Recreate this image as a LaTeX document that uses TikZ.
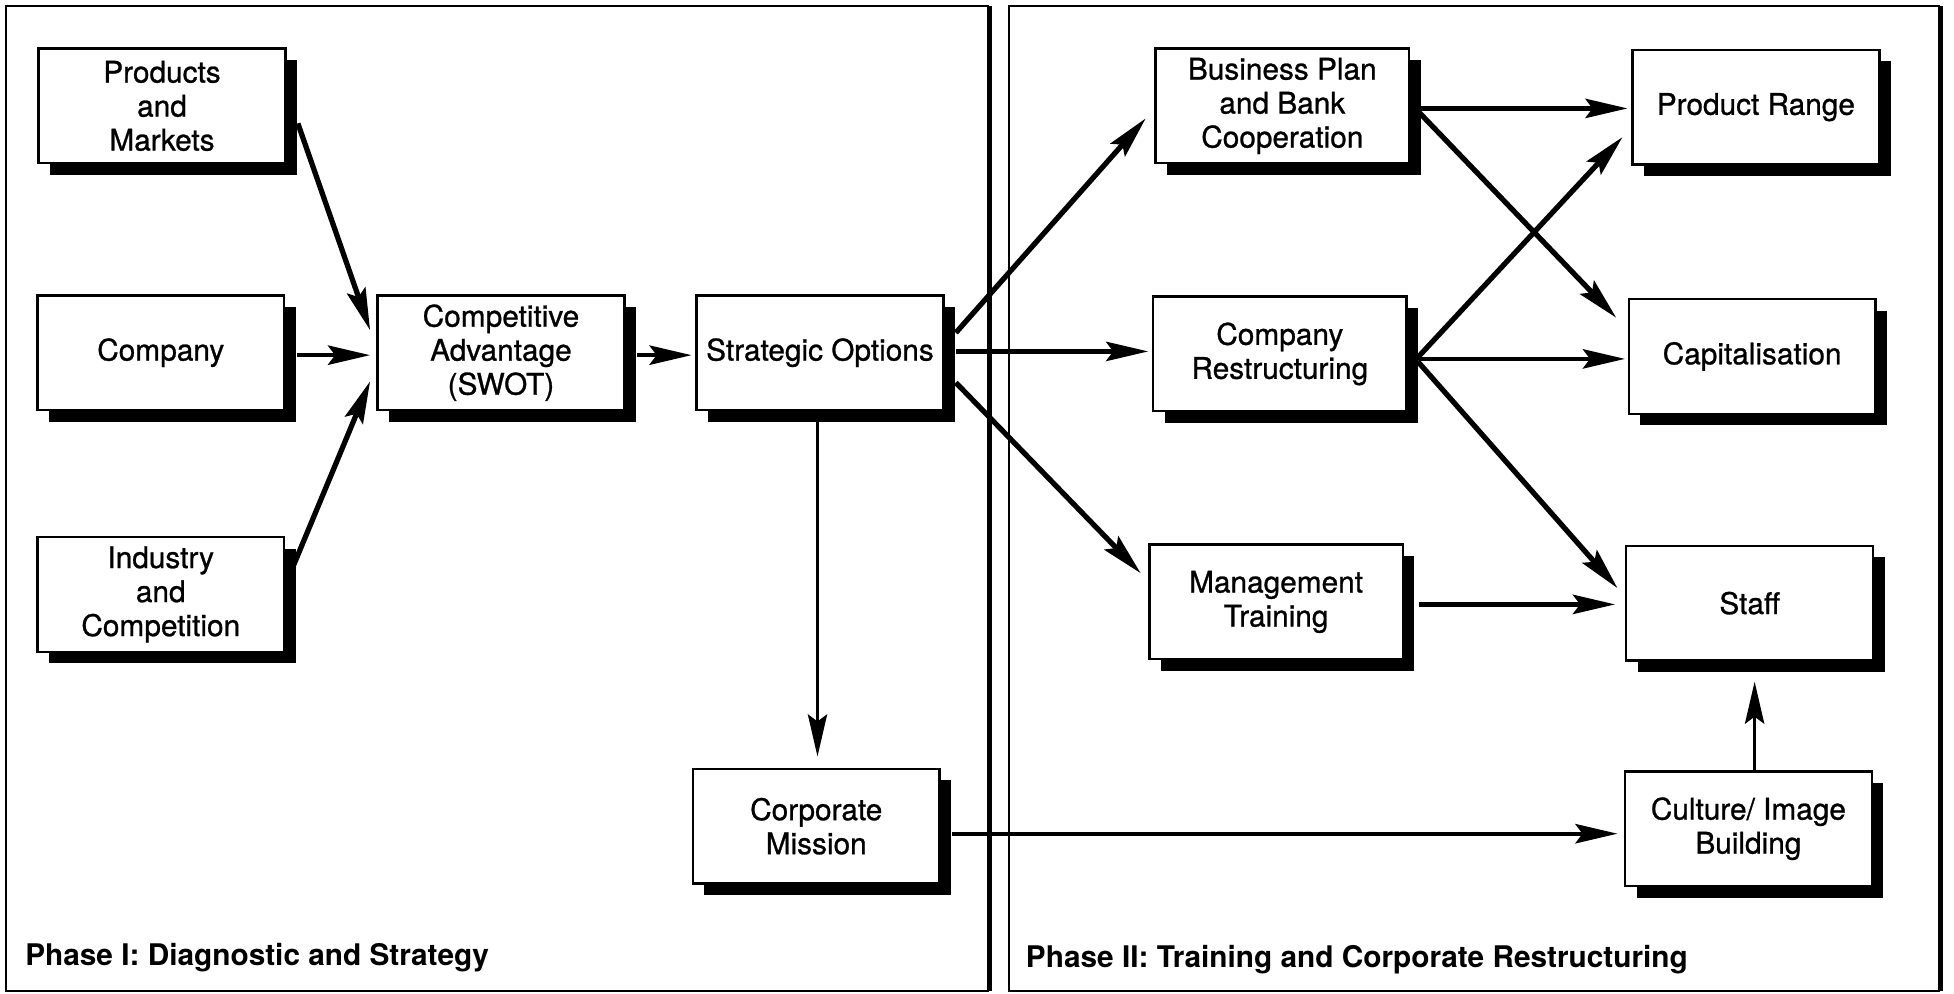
\documentclass[tikz,border=0pt]{standalone}
\usepackage{fontspec}
\setmainfont{TeX Gyre Heros}
\newfontfamily\boxfont[FakeBold=0.9]{TeX Gyre Heros}
\usetikzlibrary{arrows.meta,shadows}

\begin{document}
\begin{tikzpicture}[x=0.025cm, y=-0.025cm,
  box/.style={draw, line width=1.4pt, fill=white, align=center,
    minimum width=4.95cm, minimum height=2.3cm, inner sep=2pt,
    font=\boxfont\fontsize{17}{19.4}\selectfont,
    drop shadow={shadow xshift=6.6pt, shadow yshift=-6.6pt, fill=black, opacity=1}},
  widebox/.style={box, minimum width=5.08cm},
  tip/.style={-{Stealth[length=24pt,width=11pt,inset=4pt]}},
  conn/.style={tip, line width=2.5pt},
  diag/.style={tip, line width=3pt},
  slim/.style={tip, line width=1.4pt},
  frame/.style={line width=1.2pt},
  heavyframe/.style={line width=3.2pt},
  caption/.style={anchor=base west, inner sep=0pt, font=\bfseries\fontsize{17}{20}\selectfont}
]
\useasboundingbox (0,0) rectangle (1568,797);

% Panel frames
\draw[frame] (794,5) -- (5,5) -- (5,795) -- (794,795);
\draw[heavyframe] (794,5) -- (794,795);
\draw[frame] (1557,5) -- (810,5) -- (810,795) -- (1557,795);
\draw[heavyframe] (1557,5) -- (1557,795);

% Phase I boxes
\node[box] (prod)    at (130,85)  {Products\\and\\Markets};
\node[box] (comp)    at (129,283) {Company};
\node[box] (ind)     at (129,477) {Industry\\and\\Competition};
\node[box] (swot)    at (402,283) {Competitive\\Advantage\\(SWOT)};
\node[box] (strat)   at (658,283) {Strategic Options};
\node[box] (mission) at (655,663) {Corporate\\Mission};

% Phase II boxes
\node[widebox] (bank)  at (1029,85)  {Business Plan\\and Bank\\Cooperation};
\node[widebox] (restr) at (1027,284) {Company\\Restructuring};
\node[widebox] (mgmt)  at (1024,483) {Management\\Training};
\node[box] (range)   at (1409,86)  {Product Range};
\node[box] (capital) at (1406,286) {Capitalisation};
\node[box] (staff)   at (1404,484) {Staff};
\node[box] (culture) at (1403,665) {Culture/ Image\\Building};

% Captions
\node[caption] (cap1) at (20,775)  {Phase I: Diagnostic and Strategy};
\node[caption] (cap2) at (823,776) {Phase II: Training and Corporate Restructuring};

% Phase I connectors
\draw[diag] ([shift={(9,14)}]prod.east)  -- ([shift={(-5,-18)}]swot.west);
\draw[conn] ([shift={(9,2)}]comp.east)   -- ([shift={(-5,2)}]swot.west);
\draw[diag] ([shift={(6,-22)}]ind.east)  -- ([shift={(-5,23)}]swot.west);
\draw[conn] ([shift={(9,2)}]swot.east)   -- ([shift={(-3,2)}]strat.west);
\draw[slim] ([shift={(-2,9)}]strat.south) -- ([shift={(1,-9)}]mission.north);

% Strategic options into Phase II
\draw[diag] ([shift={(9,-16)}]strat.east) -- ([shift={(-7,10)}]bank.west);
\draw[conn] ([shift={(9,-1)}]strat.east)  -- ([shift={(-3,-2)}]restr.west);
\draw[diag] ([shift={(9,24)}]strat.east)  -- ([shift={(-6,-23)}]mgmt.west);
\draw[conn] ([shift={(9,6)}]mission.east) -- ([shift={(-5,4)}]culture.west);

% Phase II connectors
\draw[conn] ([shift={(9,2)}]bank.east)   -- ([shift={(-3,1)}]range.west);
\draw[diag] ([shift={(7,5)}]bank.east)   -- ([shift={(-9,-31)}]capital.west);
\draw[diag] ([shift={(7,4)}]restr.east)  -- ([shift={(-7,24)}]range.west);
\draw[conn] ([shift={(9,4)}]restr.east)  -- ([shift={(-2,2)}]capital.west);
\draw[diag] ([shift={(8,6)}]restr.east)  -- ([shift={(-6,-12)}]staff.west);
\draw[conn] ([shift={(12,2)}]mgmt.east)  -- ([shift={(-8,1)}]staff.west);
\draw[tip, line width=1.9pt] ([shift={(5,0)}]culture.north) -- ([shift={(4,16)}]staff.south);
\end{tikzpicture}
\end{document}
